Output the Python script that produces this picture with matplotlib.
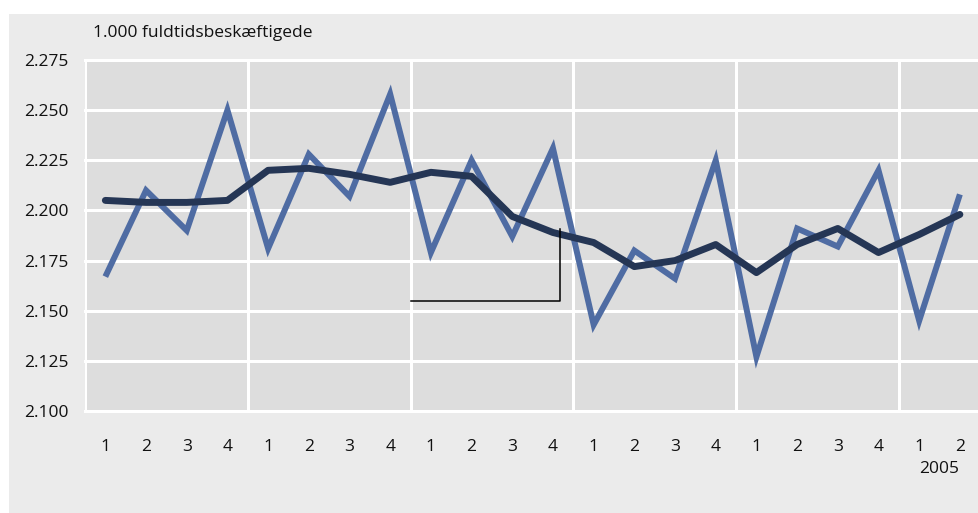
import numpy as np
import matplotlib
matplotlib.use("Agg")
import matplotlib.pyplot as plt
from matplotlib.patches import Rectangle

plt.rcParams['font.family'] = ['Open Sans', 'DejaVu Sans']

# Quarters 2000Q1 - 2005Q2
quarters = ['1', '2', '3', '4'] * 5 + ['1', '2']

# Actual (not seasonally adjusted), 1.000 full-time employed
actual = [2.167, 2.210, 2.190, 2.250, 2.181, 2.228, 2.207, 2.258,
          2.179, 2.225, 2.187, 2.231, 2.143, 2.180, 2.166, 2.225,
          2.127, 2.191, 2.182, 2.220, 2.145, 2.208]

# Seasonally adjusted
adjusted = [2.205, 2.204, 2.204, 2.205, 2.220, 2.221, 2.218, 2.214,
            2.219, 2.217, 2.197, 2.189, 2.184, 2.172, 2.175, 2.183,
            2.169, 2.183, 2.191, 2.179, 2.188, 2.198]

y_ticks = [2.100, 2.125, 2.150, 2.175, 2.200, 2.225, 2.250, 2.275]
year_bounds = [3.5, 7.5, 11.5, 15.5, 19.5]

# odd bracket line in the middle of the chart
bracket_x = [7.5, 11.18, 11.18]
bracket_y = [2.1548, 2.1548, 2.1906]

blue = '#4f6ca3'
navy = '#253655'

fig = plt.figure(figsize=(9.79, 5.13), dpi=100)
fig.patch.set_facecolor('white')
panel = Rectangle((9 / 979, 0), 1 - 9 / 979, 1 - 14 / 513,
                  transform=fig.transFigure, facecolor='#ebebeb',
                  edgecolor='none', zorder=-10)
fig.add_artist(panel)

ax = fig.add_axes([85 / 979, 1 - 411 / 513, 1 - 85 / 979, (411 - 60) / 513])
ax.set_facecolor('#dddddd')

xs = np.arange(len(quarters))
ax.set_xlim(-0.5, 21.47)
ax.set_ylim(2.100, 2.275)

# grid
for yv in y_ticks:
    ax.axhline(yv, color='white', lw=2.2, zorder=1, clip_on=False)
for xv in [-0.5] + year_bounds:
    ax.axvline(xv, color='white', lw=2.2, zorder=1)

ax.plot(xs, actual, color=blue, lw=4.3, solid_joinstyle='miter',
        solid_capstyle='butt', zorder=3)
ax.plot(xs, adjusted, color=navy, lw=5.0, solid_joinstyle='round',
        solid_capstyle='round', zorder=4)
ax.plot(bracket_x, bracket_y, color='black', lw=1.1, zorder=5)

for s in ax.spines.values():
    s.set_visible(False)

ax.set_xticks(xs)
ax.set_xticklabels(quarters)
ax.set_yticks(y_ticks)
ax.set_yticklabels([f'{v:.3f}' for v in y_ticks])
ax.tick_params(axis='both', length=0, labelsize=12.5, colors='#111111')
ax.tick_params(axis='x', pad=20)
ax.tick_params(axis='y', pad=12)

ax.text(20.5, -0.165, '2005', transform=ax.get_xaxis_transform(),
        ha='center', va='center', fontsize=12.5, color='#111111')

fig.text(93 / 979, 1 - 33 / 513, '1.000 fuldtidsbeskæftigede',
         ha='left', va='center', fontsize=12.5, color='#111111')

fig.savefig('out.png', dpi=100)
